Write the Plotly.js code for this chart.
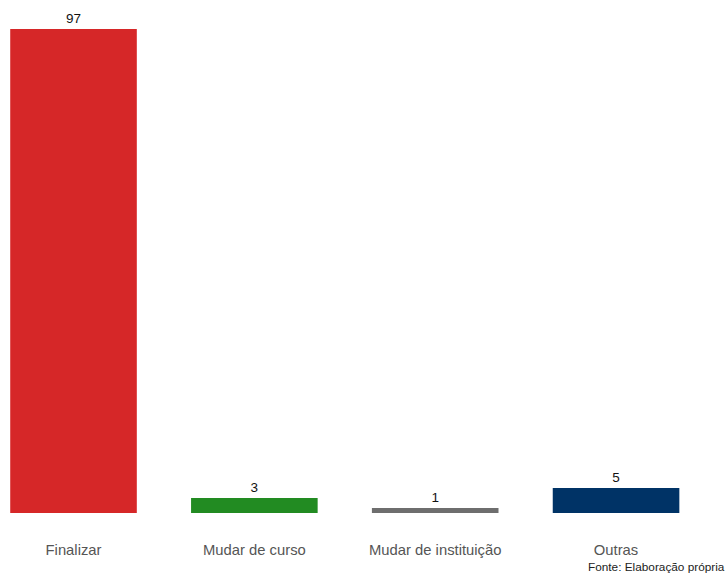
<!DOCTYPE html>
<html>
<head>
<meta charset="utf-8">
<script src="https://cdn.plot.ly/plotly-3.0.1.min.js"></script>
<style>html,body{margin:0;padding:0;background:#fff;}#chart{width:726px;height:574px;}</style>
</head>
<body>
<div id="chart"></div>
<script>
const categories = ["Finalizar", "Mudar de curso", "Mudar de instituição", "Outras"];
const values = [97, 3, 1, 5];
const barColors = ["#D62728", "#228B22", "#6E6E6E", "#003366"];
const caption = "Fonte: Elaboração própria";

const trace = {
  type: "bar",
  x: categories,
  y: values,
  marker: { color: barColors },
  width: 0.7,
  text: values.map(String),
  textposition: "outside",
  cliponaxis: false,
  textfont: { family: "Liberation Sans, Arial, sans-serif", size: 13.5, color: "#111" },
  hoverinfo: "none"
};

const layout = {
  width: 726,
  height: 574,
  margin: { l: 0, r: 0, t: 20, b: 61 },
  paper_bgcolor: "#fff",
  plot_bgcolor: "#fff",
  showlegend: false,
  xaxis: {
    range: [-0.4065, 3.608],
    showgrid: false, zeroline: false, showline: false,
    ticks: "", ticklabelstandoff: 26,
    tickfont: { family: "Liberation Sans, Arial, sans-serif", size: 14.8, color: "#555" }
  },
  yaxis: {
    range: [0, 98.81],
    visible: false, showgrid: false, zeroline: false
  },
  annotations: [{
    text: caption, xref: "paper", yref: "paper", x: 1, y: 0,
    xanchor: "right", yanchor: "middle", yshift: -54, showarrow: false,
    borderpad: 0,
    font: { family: "Liberation Sans, Arial, sans-serif", size: 11.8, color: "#222" }
  }]
};

Plotly.newPlot("chart", [trace], layout, { displayModeBar: false, staticPlot: true });
</script>
</body>
</html>
